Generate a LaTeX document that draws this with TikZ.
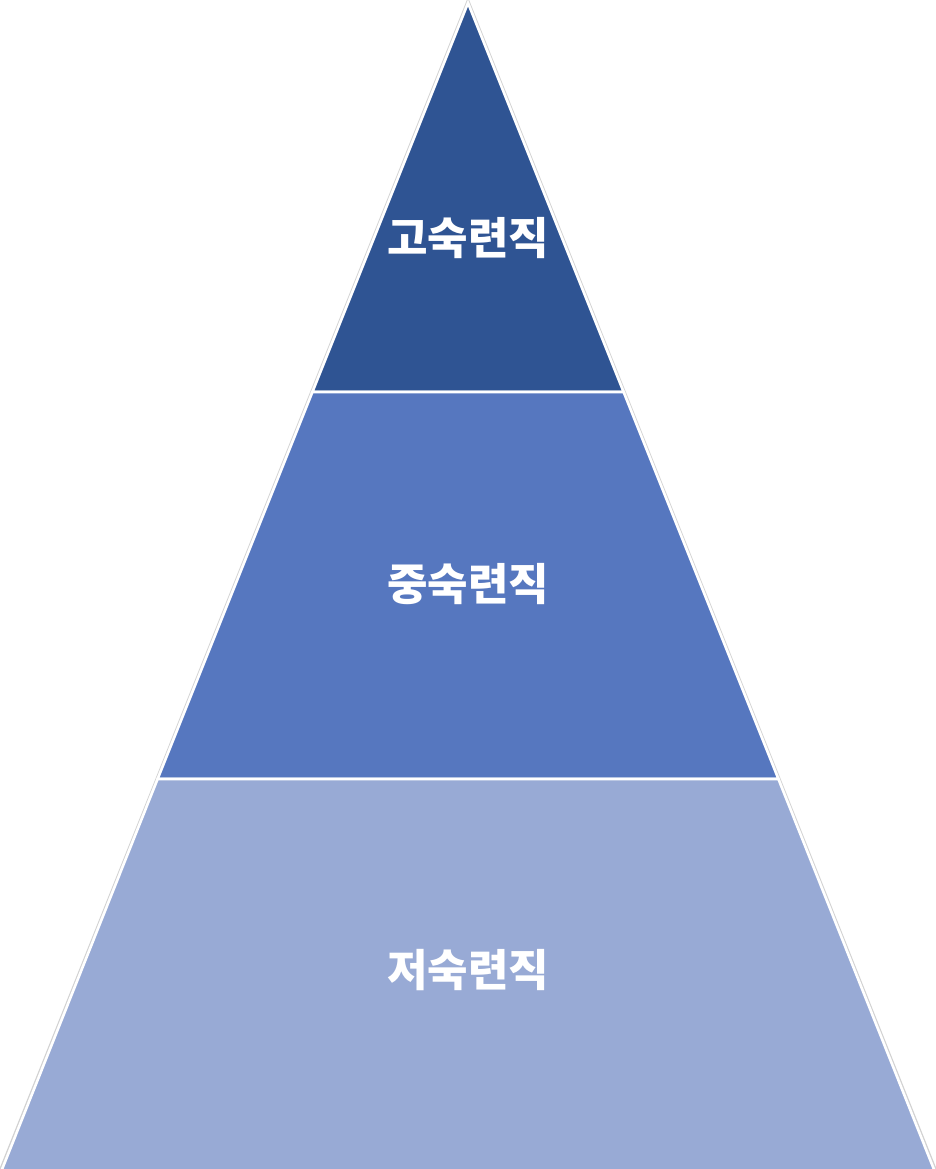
\documentclass[tikz,border=0pt]{standalone}
\usepackage{fontspec}
\newfontfamily\kr{Noto Sans CJK KR}
\definecolor{topblue}{HTML}{2F5493}
\definecolor{midblue}{HTML}{5677BF}
\definecolor{lowblue}{HTML}{98AAD5}
\tikzset{
  band/.style={draw=white, line width=2.6pt, line join=miter},
  label/.style={text=white, font=\kr\bfseries\fontsize{44}{52}\selectfont, inner sep=0pt},
}
\begin{document}
\begin{tikzpicture}[x=1pt,y=-1pt]
\useasboundingbox (0,0) rectangle (936,1169);
% faint outer edge
\draw[gray!35, line width=4.4pt, line join=miter] (468,3) -- (1.7,1169) -- (934.3,1169) -- cycle;
\fill[white] (468,3) -- (1.7,1169) -- (934.3,1169) -- cycle;
% bands
\path[band, fill=topblue] (468,3) -- (312.4,392) -- (623.6,392) -- cycle;
\path[band, fill=midblue] (312.4,392) -- (157.6,779) -- (778.4,779) -- (623.6,392) -- cycle;
\path[band, fill=lowblue] (157.6,779) -- (1.0,1172) -- (935.0,1172) -- (778.4,779) -- cycle;
\node[label] (high) at (468,238) {고숙련직};
\node[label] (mid) at (468,584) {중숙련직};
\node[label] (low) at (468,970) {저숙련직};
\end{tikzpicture}
\end{document}
